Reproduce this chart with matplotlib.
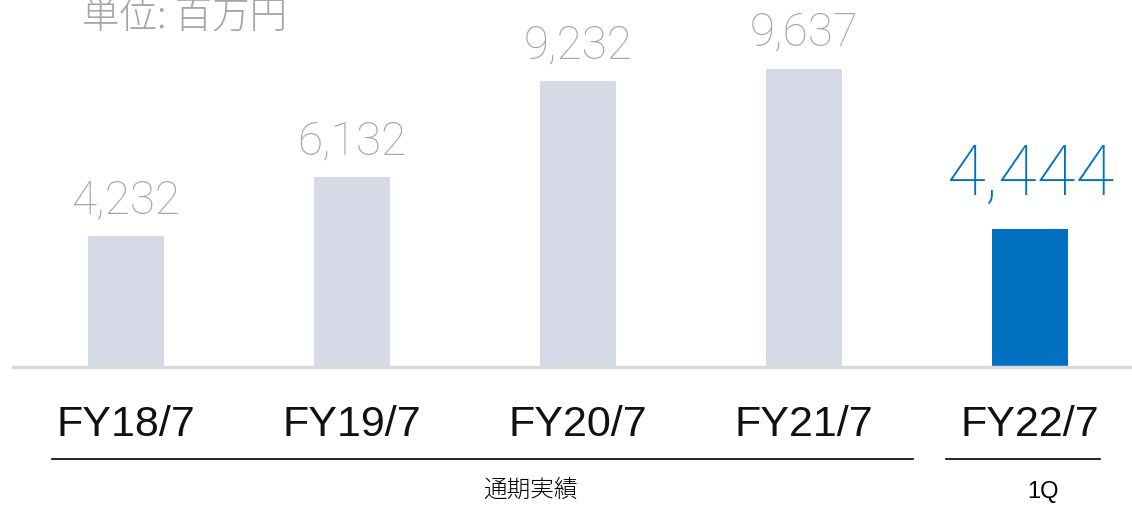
import matplotlib.pyplot as plt

# data
categories = ['FY18/7', 'FY19/7', 'FY20/7', 'FY21/7', 'FY22/7']
values = [4232, 6132, 9232, 9637, 4444]
highlight = [False, False, False, False, True]
group_labels = ['通期実績', '1Q']

plt.rcParams['font.family'] = ['Liberation Sans', 'Noto Sans CJK JP', 'DejaVu Sans']

fig = plt.figure(figsize=(11.32, 5.06), dpi=100)
ax = fig.add_axes([13 / 1132, 138 / 506, 1 - 13 / 1132, 368 / 506])

x = list(range(len(categories)))
colors = ['#0070c0' if h else '#d5dae6' for h in highlight]
ax.bar(x, values, width=0.336, color=colors, zorder=2)

ax.set_xlim(-0.5, 4.451)
ax.set_ylim(0, 11886)

# value labels
for xi, v, h in zip(x, values, highlight):
    if h:
        ax.text(xi, v + 700, f'{v:,}', ha='center', va='bottom', fontsize=51,
                color='#0070c0', fontweight='light', family=['Roboto', 'DejaVu Sans'])
    else:
        ax.text(xi, v + 480, f'{v:,}', ha='center', va='bottom', fontsize=33,
                color='#a6a6a6', fontweight='light', family=['Roboto', 'DejaVu Sans'])

for s in ['top', 'right', 'left']:
    ax.spines[s].set_visible(False)
ax.spines['bottom'].set_color('#d9d9d9')
ax.spines['bottom'].set_linewidth(2.5)
ax.set_yticks([])
ax.set_xticks(x)
ax.set_xticklabels(categories, fontsize=31, color='#111111')
ax.tick_params(axis='x', length=0, pad=27)

# unit label
fig.text(82 / 1132, 1 - 17 / 506, '単位: 百万円', fontsize=27, color='#a6a6a6',
         fontweight='light', ha='left', va='center',
         family=['Noto Sans CJK JP', 'DejaVu Sans'])

# group brackets
fig.add_artist(plt.Line2D([52 / 1132, 913 / 1132], [1 - 460 / 506] * 2, color='black', lw=1.2))
fig.add_artist(plt.Line2D([946 / 1132, 1100 / 1132], [1 - 460 / 506] * 2, color='black', lw=1.2))
fig.text(530 / 1132, 1 - 490 / 506, group_labels[0], fontsize=17, ha='center', va='center',
         fontweight='light', family=['Noto Sans CJK JP', 'DejaVu Sans'])
fig.text(1043 / 1132, 1 - 492 / 506, group_labels[1], fontsize=17, ha='center', va='center')

fig.savefig('out.png', dpi=100)
